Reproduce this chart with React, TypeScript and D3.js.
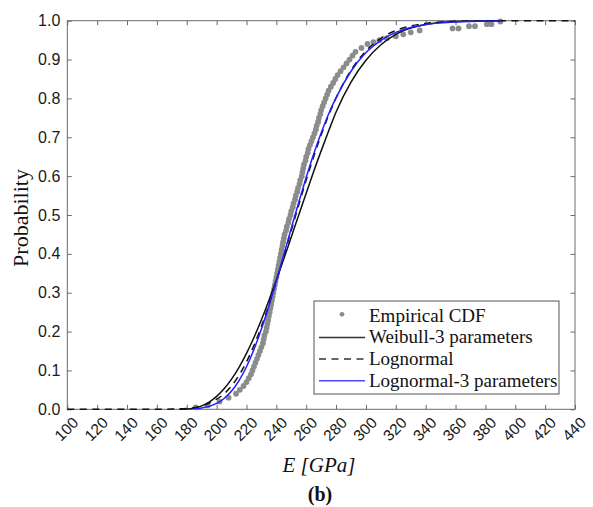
import React, { useEffect, useRef } from "react";
import * as d3 from "d3";

// axis ticks
const xTickValues = [100, 120, 140, 160, 180, 200, 220, 240, 260, 280, 300, 320, 340, 360, 380, 400, 420, 440];
const yTickValues = [0, 0.1, 0.2, 0.3, 0.4, 0.5, 0.6, 0.7, 0.8, 0.9, 1.0];

// empirical CDF
const ecdfE = [186, 194, 202, 208, 213, 215.5, 218, 220, 221.5, 223, 224, 225, 226, 227, 228, 229, 230, 231, 231.5, 232,
  233, 233.5, 234, 234.5, 235, 235.5, 236, 236.5, 237, 237.5, 238, 238.5, 239, 239.5, 240, 240.5, 241, 241.5, 242, 242.5,
  243, 243.5, 244, 244.5, 245, 245.5, 246.5, 247, 248, 248.5, 249.5, 250, 251, 251.5, 252.5, 253, 254, 254.5, 255.5, 256,
  257, 257.5, 258, 258.5, 259.5, 260, 261, 261.5, 262.5, 263.5, 264.5, 265.5, 266.5, 267, 268, 268.5, 269.5, 270, 271, 272,
  273, 274, 275, 276.5, 278, 279.5, 281, 283, 285, 287, 289, 291, 293, 297, 301, 305, 309, 314, 320, 325,
  330, 336, 358, 362, 369, 373, 381, 384, 390];
const ecdfP = [0.005, 0.01, 0.02, 0.03, 0.04, 0.05, 0.06, 0.07, 0.08, 0.09, 0.10, 0.11, 0.12, 0.13, 0.14, 0.15, 0.16, 0.17, 0.18, 0.19,
  0.20, 0.21, 0.22, 0.23, 0.24, 0.25, 0.26, 0.27, 0.28, 0.29, 0.30, 0.31, 0.32, 0.33, 0.34, 0.35, 0.36, 0.37, 0.38, 0.39,
  0.40, 0.41, 0.42, 0.43, 0.44, 0.45, 0.46, 0.47, 0.48, 0.49, 0.50, 0.51, 0.52, 0.53, 0.54, 0.55, 0.56, 0.57, 0.58, 0.59,
  0.60, 0.61, 0.62, 0.63, 0.64, 0.65, 0.66, 0.67, 0.68, 0.69, 0.70, 0.71, 0.72, 0.73, 0.74, 0.75, 0.76, 0.77, 0.78, 0.79,
  0.80, 0.81, 0.82, 0.83, 0.84, 0.85, 0.86, 0.87, 0.88, 0.89, 0.90, 0.91, 0.92, 0.93, 0.94, 0.945, 0.95, 0.955, 0.96, 0.965,
  0.97, 0.975, 0.98, 0.98, 0.986, 0.986, 0.991, 0.991, 0.998];

// Weibull-3 parameters (solid black)
const weibullE = [175, 180, 185, 190, 195, 200, 205, 210, 215, 220, 225, 230, 235, 240, 245, 250, 255, 260, 265, 270, 275, 280, 290, 300, 310, 320, 330, 340, 350, 360, 375, 390];
const weibullP = [0, 0.0005, 0.0031, 0.0089, 0.0187, 0.0332, 0.0527, 0.0776, 0.108, 0.1438, 0.1848, 0.2304, 0.2799, 0.3325, 0.3874, 0.4436, 0.5, 0.5559, 0.612, 0.665, 0.716, 0.765, 0.842, 0.898, 0.938, 0.965, 0.981, 0.9905, 0.9955, 0.998, 0.9995, 0.9999];

// Lognormal (dashed black)
const lognormE = [100, 150, 160, 170, 180, 190, 200, 205, 210, 215, 220, 225, 230, 235, 240, 245, 250, 255, 260, 265, 270, 275, 280, 290, 300, 310, 320, 330, 340, 350, 360, 380, 400, 440];
const lognormP = [0, 0, 0.0001, 0.0005, 0.0023, 0.0085, 0.026, 0.0398, 0.0602, 0.0876, 0.122, 0.1642, 0.2136, 0.2693, 0.33, 0.3945, 0.4604, 0.526, 0.59, 0.65, 0.706, 0.7565, 0.801, 0.8723, 0.9222, 0.9548, 0.9749, 0.9866, 0.9931, 0.9966, 0.9984, 0.9997, 1, 1];

// Lognormal-3 parameters (blue)
const logn3E = [185, 190, 195, 200, 205, 210, 215, 220, 225, 230, 235, 240, 245, 250, 255, 260, 265, 270, 275, 280, 290, 300, 310, 320, 330, 340, 350, 360, 375, 390];
const logn3P = [0.0014, 0.0034, 0.0076, 0.0152, 0.0278, 0.047, 0.074, 0.1095, 0.154, 0.2066, 0.266, 0.3305, 0.398, 0.466, 0.533, 0.597, 0.657, 0.711, 0.76, 0.802, 0.87, 0.918, 0.9496, 0.97, 0.9825, 0.99, 0.9944, 0.9969, 0.9988, 0.9995];

const legendLabels = ["Empirical CDF", "Weibull-3 parameters", "Lognormal", "Lognormal-3 parameters"];

const SANS = '"Liberation Sans", Arial, Helvetica, sans-serif';
const SERIF = '"Liberation Serif", "Times New Roman", Times, serif';

const App = () => {
  const ref = useRef<SVGSVGElement>(null);

  useEffect(() => {
    const svg = d3.select(ref.current);
    svg.selectAll("*").remove();

    const left = 67.3, right = 575, top = 20.7, bottom = 409.3;
    const x = d3.scaleLinear().domain([100, 440]).range([left, right]);
    const y = d3.scaleLinear().domain([0, 1]).range([bottom, top]);
    const frame = "#6a6a6a";

    svg.append("rect")
      .attr("width", 593).attr("height", 507).attr("fill", "#fff");

    // ticks on all four sides, pointing inward
    const tickGroups = [
      { axis: d3.axisBottom(x).tickValues(xTickValues), tr: `translate(0,${bottom})` },
      { axis: d3.axisTop(x).tickValues(xTickValues), tr: `translate(0,${top})` },
      { axis: d3.axisLeft(y).tickValues(yTickValues), tr: `translate(${left},0)` },
      { axis: d3.axisRight(y).tickValues(yTickValues), tr: `translate(${right},0)` },
    ];
    tickGroups.forEach(t => {
      const g = svg.append("g").attr("transform", t.tr)
        .call(t.axis.tickSizeInner(-4.5).tickSizeOuter(0).tickFormat(() => ""));
      g.select(".domain").remove();
      g.selectAll("line").attr("stroke", frame);
    });

    svg.append("rect")
      .attr("x", left).attr("y", top)
      .attr("width", right - left).attr("height", bottom - top)
      .attr("fill", "none").attr("stroke", frame).attr("stroke-width", 1);

    // tick labels
    svg.append("g").selectAll("text")
      .data(yTickValues).join("text")
      .attr("x", left - 7).attr("y", d => y(d))
      .attr("text-anchor", "end").attr("dominant-baseline", "central")
      .attr("font-family", SANS).attr("font-size", 16).attr("fill", "#1a1a1a")
      .text(d => d3.format(".1f")(d));

    svg.append("g").selectAll("text")
      .data(xTickValues).join("text")
      .attr("transform", d => `translate(${x(d) - 1},429) rotate(-45)`)
      .attr("text-anchor", "middle").attr("dominant-baseline", "central")
      .attr("font-family", SANS).attr("font-size", 15.5).attr("fill", "#1a1a1a")
      .text(d => d);

    // axis titles
    svg.append("text")
      .attr("transform", `translate(28,218) rotate(-90)`)
      .attr("text-anchor", "middle")
      .attr("font-family", SERIF).attr("font-size", 22).attr("fill", "#111")
      .text("Probability");
    svg.append("text")
      .attr("x", 319).attr("y", 472)
      .attr("text-anchor", "middle")
      .attr("font-family", SERIF).attr("font-style", "italic").attr("font-size", 21).attr("fill", "#111")
      .text("E [GPa]");
    svg.append("text")
      .attr("x", 320).attr("y", 501)
      .attr("text-anchor", "middle")
      .attr("font-family", SERIF).attr("font-weight", "bold").attr("font-size", 20).attr("fill", "#111")
      .text("(b)");

    // empirical CDF dots
    svg.append("g").selectAll("circle")
      .data(ecdfE.map((e, i) => [e, ecdfP[i]]))
      .join("circle")
      .attr("cx", d => x(d[0])).attr("cy", d => y(d[1]))
      .attr("r", 2.9).attr("fill", "#8c8c8c");

    const line = d3.line<number[]>()
      .x(d => x(d[0])).y(d => y(d[1]))
      .curve(d3.curveMonotoneX);

    svg.append("path")
      .attr("d", line(weibullE.map((e, i) => [e, weibullP[i]])))
      .attr("fill", "none").attr("stroke", "#111").attr("stroke-width", 1.5);
    svg.append("path")
      .attr("d", line(lognormE.map((e, i) => [e, lognormP[i]])))
      .attr("fill", "none").attr("stroke", "#111").attr("stroke-width", 1.5)
      .attr("stroke-dasharray", "7,5.5");
    svg.append("path")
      .attr("d", line(logn3E.map((e, i) => [e, logn3P[i]])))
      .attr("fill", "none").attr("stroke", "#1e1eff").attr("stroke-width", 1.5);

    // legend
    const lg = svg.append("g");
    lg.append("rect")
      .attr("x", 314).attr("y", 301).attr("width", 245).attr("height", 93)
      .attr("fill", "#fff").attr("stroke", "#555").attr("stroke-width", 1);
    const rowY = (i: number) => 321.7 + i * 21.7;
    lg.selectAll("text").data(legendLabels).join("text")
      .attr("x", 369).attr("y", (d, i) => rowY(i))
      .attr("font-family", SERIF).attr("font-size", 19).attr("fill", "#111")
      .text(d => d);
    lg.append("circle")
      .attr("cx", 342).attr("cy", rowY(0) - 7.4).attr("r", 2.4).attr("fill", "#8c8c8c");
    const samples = [
      { i: 1, color: "#333", dash: null },
      { i: 2, color: "#333", dash: "7,5.5" },
      { i: 3, color: "#4a4aff", dash: null },
    ];
    samples.forEach(s => {
      lg.append("line")
        .attr("x1", 319).attr("x2", 365)
        .attr("y1", rowY(s.i) - 6).attr("y2", rowY(s.i) - 6)
        .attr("stroke", s.color).attr("stroke-width", 1.5)
        .attr("stroke-dasharray", s.dash);
    });
  }, []);

  return (
    <svg ref={ref} width={593} height={507}
      style={{ position: "absolute", left: 0, top: 0, display: "block" }} />
  );
};

export default App;
